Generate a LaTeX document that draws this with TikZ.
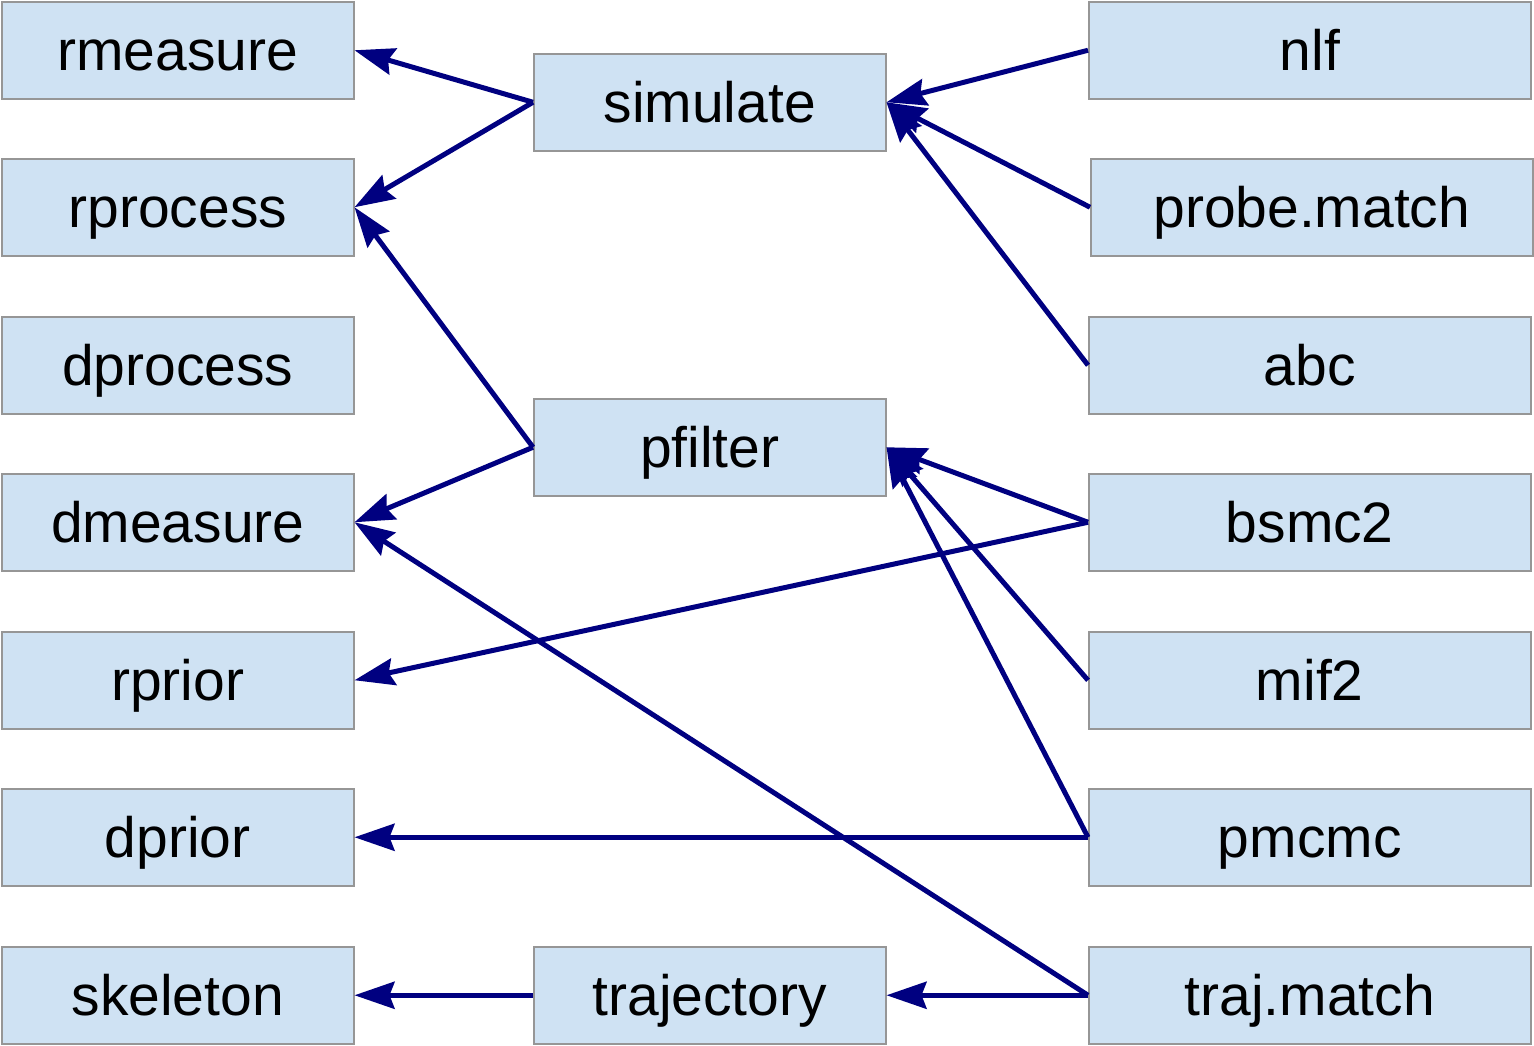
\documentclass[tikz,border=0pt]{standalone}
\usepackage{fontspec}
\setmainfont{Liberation Sans}
\usetikzlibrary{arrows.meta}
\definecolor{boxfill}{RGB}{207,226,243}
\definecolor{boxline}{RGB}{150,150,150}
\definecolor{edge}{RGB}{0,0,128}
\begin{document}
\begin{tikzpicture}[x=1pt,y=-1pt,
  box/.style={draw=boxline, fill=boxfill, line width=1.5pt, rectangle, inner sep=0pt,
    minimum height=97pt, anchor=north west, text height=45pt, text depth=4pt,
    font=\fontsize{57}{60}\selectfont},
  lbox/.style={box, minimum width=352pt},
  rbox/.style={box, minimum width=442pt},
  conn/.style={draw=edge, line width=5pt, -{Stealth[length=40pt,width=27pt,inset=5pt]}}
]
\useasboundingbox (0,0) rectangle (1534,1045);
% left column
\node[lbox] (rmeasure) at (1,1) {rmeasure};
\node[lbox] (rprocess) at (1,158) {rprocess};
\node[lbox] (dprocess) at (1,316) {dprocess};
\node[lbox] (dmeasure) at (1,473) {dmeasure};
\node[lbox] (rprior) at (1,631) {rprior};
\node[lbox] (dprior) at (1,788) {dprior};
\node[lbox] (skeleton) at (1,946) {skeleton};
% middle column
\node[lbox] (simulate) at (533,53) {simulate};
\node[lbox] (pfilter) at (533,398) {pfilter};
\node[lbox] (trajectory) at (533,946) {trajectory};
% right column
\node[rbox] (nlf) at (1088,1) {nlf};
\node[rbox] (probematch) at (1090,158) {probe.match};
\node[rbox] (abc) at (1088,316) {abc};
\node[rbox] (bsmc2) at (1088,473) {bsmc2};
\node[rbox] (mif2) at (1088,631) {mif2};
\node[rbox] (pmcmc) at (1088,788) {pmcmc};
\node[rbox] (trajmatch) at (1088,946) {traj.match};
% connectors
\draw[conn] (simulate.west) -- (rmeasure.east);
\draw[conn] (simulate.west) -- (rprocess.east);
\draw[conn] (pfilter.west) -- (rprocess.east);
\draw[conn] (pfilter.west) -- (dmeasure.east);
\draw[conn] (trajmatch.west) -- (dmeasure.east);
\draw[conn] (nlf.west) -- (simulate.east);
\draw[conn] (probematch.west) -- (simulate.east);
\draw[conn] (abc.west) -- (simulate.east);
\draw[conn] (bsmc2.west) -- (pfilter.east);
\draw[conn] (bsmc2.west) -- (rprior.east);
\draw[conn] (mif2.west) -- (pfilter.east);
\draw[conn] (pmcmc.west) -- (pfilter.east);
\draw[conn] (pmcmc.west) -- (dprior.east);
\draw[conn] (trajmatch.west) -- (trajectory.east);
\draw[conn] (trajectory.west) -- (skeleton.east);
\end{tikzpicture}
\end{document}
